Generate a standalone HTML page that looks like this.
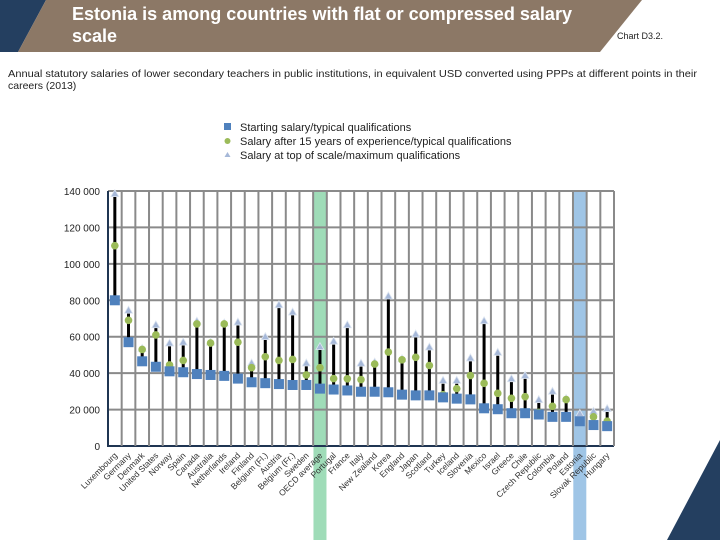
<!DOCTYPE html>
<html><head><meta charset="utf-8">
<style>
body{margin:0;width:720px;height:540px;overflow:hidden;background:#fff;font-family:"Liberation Sans",sans-serif;}
svg{display:block}
</style></head>
<body>
<svg id="c" width="720" height="540" xmlns="http://www.w3.org/2000/svg">
<polygon points="0,0 46,0 18,52 0,52" fill="#243f60"/>
<polygon points="46,0 642,0 600,52 18,52" fill="#8c7866"/>
<polygon points="720,440 720,540 667,540" fill="#243f60"/>
<text x="72" y="20" font-size="18" font-weight="bold" fill="#fff" textLength="500" lengthAdjust="spacingAndGlyphs">Estonia is among countries with flat or compressed salary</text>
<text x="72" y="42" font-size="18" font-weight="bold" fill="#fff">scale</text>
<text x="617" y="39" font-size="9" fill="#222">Chart D3.2.</text>
<text x="8" y="77" font-size="10.5" fill="#222" textLength="689" lengthAdjust="spacingAndGlyphs">Annual statutory salaries of lower secondary teachers in public institutions, in equivalent USD converted using PPPs at different points in their</text>
<text x="8" y="89" font-size="10.5" fill="#222">careers (2013)</text>
<g>
<rect x="224" y="123" width="7" height="7" fill="#4f81bd"/>
<text x="240" y="131" font-size="11" fill="#222">Starting salary/typical qualifications</text>
<circle cx="227.5" cy="141" r="3" fill="#9bbb59"/>
<text x="240" y="145" font-size="11" fill="#222">Salary after 15 years of experience/typical qualifications</text>
<polygon points="227.5,152 230.5,157 224.5,157" fill="#a6b8d8"/>
<text x="240" y="159" font-size="11" fill="#222">Salary at top of scale/maximum qualifications</text>
</g>
<g id="plot"></g>
</svg>
<script>
const categories=["Luxembourg","Germany","Denmark","United States","Norway","Spain","Canada","Australia","Netherlands","Ireland","Finland","Belgium (Fl.)","Austria","Belgium (Fr.)","Sweden","OECD average","Portugal","France","Italy","New Zealand","Korea","England","Japan","Scotland","Turkey","Iceland","Slovenia","Mexico","Israel","Greece","Chile","Czech Republic","Colombia","Poland","Estonia","Slovak Republic","Hungary"];
const startSalary=[80000,57000,46500,43500,41000,40500,39500,39000,38500,37000,35000,34500,34000,33500,33500,31500,31000,30500,29800,29800,29500,28200,27800,27800,26700,26000,25600,20700,20200,18000,18000,17300,16000,16000,13600,11500,10900];
const salary15=[110000,69000,53000,61000,44500,47000,67000,56500,67000,57000,43000,49000,47000,47500,39000,43000,37000,36900,36500,45000,51600,47300,48700,44200,28200,31500,38700,34400,28900,26200,27100,18500,21800,25500,13600,16000,13600];
const salaryTop=[138000,74000,53000,66000,56000,56500,68000,56500,67000,67500,45000,59500,77000,73000,45000,54000,57000,66000,44900,45500,81800,47300,60900,53800,35500,35500,47800,68200,50900,36400,38200,24900,29500,25500,17300,18500,20000];
const yTicks=[0,20000,40000,60000,80000,100000,120000,140000];
const highlight={"OECD average":"#9fdcb8","Estonia":"#9fc5e6"};

const X0=108,X1=614,Y0=446,Y1=191,YMAX=140000;
const bw=(X1-X0)/categories.length;
const xc=i=>X0+bw*(i+0.5);
const y=v=>Y0-(v/YMAX)*(Y0-Y1);
const NS="http://www.w3.org/2000/svg";
const plot=document.getElementById('plot');
function mk(tag,attrs,parent){const e=document.createElementNS(NS,tag);for(const k in attrs)e.setAttribute(k,attrs[k]);(parent||plot).appendChild(e);return e;}

categories.forEach((c,i)=>{
  if(highlight[c]){
    const r=mk('rect',{x:xc(i)-6.5,y:Y1,width:13,height:540-Y1,fill:highlight[c]});
    
    
  }
});
yTicks.forEach(t=>{
  const l=mk('line',{x1:X0,x2:X1,y1:y(t),y2:y(t),stroke:t===0?'#1f3552':'#8a8a8a','stroke-width':2});
  
  
  const tx=mk('text',{x:X0-8,y:y(t)+4,'font-size':10,'text-anchor':'end',fill:'#222'});
  tx.textContent=t===0?'0':(t/1000)+' 000';
  
  
});
for(let i=0;i<=categories.length;i++){
  const l=mk('line',{x1:X0+bw*i,x2:X0+bw*i,y1:Y1,y2:Y0,stroke:'#8a8a8a','stroke-width':2});
  
  
}
const ax=mk('line',{x1:X0,x2:X0,y1:Y1,y2:Y0+1,stroke:'#1f3552','stroke-width':2});


categories.forEach((c,i)=>{
  const x=xc(i);
  const ln=mk('line',{x1:x,x2:x,y1:y(startSalary[i]),y2:y(salaryTop[i]),stroke:'#000','stroke-width':3});
  
  
  const yt=y(salaryTop[i]);
  const tr=mk('polygon',{points:`${x},${yt-5} ${x+4},${yt+2} ${x-4},${yt+2}`,fill:'#a6b8d8',stroke:'#dde5f0','stroke-width':0.8});
  
  
  const ci=mk('circle',{cx:x,cy:y(salary15[i]),r:3.8,fill:'#9bbb59'});
  
  
  const sq=mk('rect',{x:x-5,y:y(startSalary[i])-5,width:10,height:10,fill:'#4f81bd'});
  
  
  const tx=mk('text',{x:x+3,y:Y0+10,'font-size':8.5,'text-anchor':'end',fill:'#333',transform:`rotate(-45 ${x+3} ${Y0+10})`});
  tx.textContent=c;
  
  
});
</script>
</body></html>
